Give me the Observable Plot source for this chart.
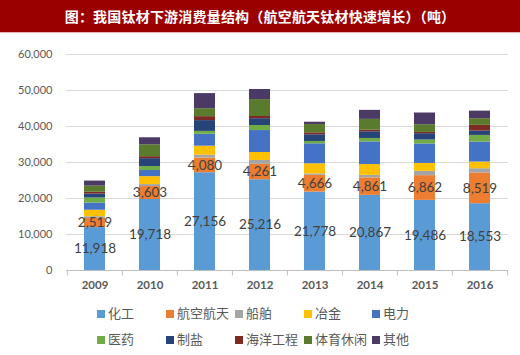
<!DOCTYPE html>
<html><head><meta charset="utf-8">
<script src="https://cdn.jsdelivr.net/npm/d3@7"></script>
<script src="https://cdn.jsdelivr.net/npm/@observablehq/plot@0.6"></script>
<style>
body{margin:0;background:#fff;width:520px;height:355px;overflow:hidden;font-family:Lato,"Noto Sans CJK SC",sans-serif;}
#title{height:32px;line-height:32px;background:#9B0000;color:#fff;text-align:center;font-family:"Noto Sans CJK SC",sans-serif;font-weight:bold;font-size:14px;letter-spacing:0.2px;border-bottom:1px solid #e8b0b0;}
#legend{position:relative;height:60px;}
.li{position:absolute;font-size:13px;color:#595959;font-family:"Noto Sans CJK SC",sans-serif;line-height:16px;white-space:nowrap;}
.sw{display:inline-block;width:8px;height:8px;margin-right:3px;vertical-align:0px;}
</style></head>
<body>
<div id="title">图：我国钛材下游消费量结构（航空航天钛材快速增长）（吨）</div>
<div id="chart"></div>
<div id="legend"></div>
<script>
const years = ["2009","2010","2011","2012","2013","2014","2015","2016"];
const seriesNames = ["化工","航空航天","船舶","冶金","电力","医药","制盐","海洋工程","体育休闲","其他"];
const huagong   = [11918,19718,27156,25216,21778,20867,19486,18553];
const hangkong  = [2519,3603,4080,4261,4666,4861,6862,8519];
const chuanbo   = [500,550,800,1100,400,700,1200,1200];
const yejin     = [1800,2200,2500,2200,2800,3000,2200,1850];
const dianli    = [2000,1700,3300,6100,5550,6300,5400,5550];
const yiyao     = [1400,1100,800,1400,650,950,1100,1850];
const zhiyan    = [1100,2200,3000,1900,1850,1850,1750,1200];
const haiyang   = [500,550,1100,600,550,450,350,1600];
const tiyu      = [1700,3300,2200,4700,2300,3000,2150,1850];
const qita      = [1400,1950,4200,2800,650,2500,3250,2100];
const yTicks = [0,10000,20000,30000,40000,50000,60000];
const colors = ["#5B9BD5","#ED7D31","#A5A5A5","#FFC000","#4472C4","#70AD47","#264478","#7E2A24","#5A7A2E","#4B3A66"];

const seriesValues = [huagong,hangkong,chuanbo,yejin,dianli,yiyao,zhiyan,haiyang,tiyu,qita];
const data = [];
seriesNames.forEach((s,i)=>years.forEach((y,j)=>data.push({year:y,series:s,value:seriesValues[i][j]})));
const labelData = data.filter(d=>d.series==="化工"||d.series==="航空航天");
const fmt = d3.format(",");

const plot = Plot.plot({
  width:520, height:262,
  marginLeft:66, marginRight:12, marginTop:21, marginBottom:25,
  style:{fontFamily:'Lato,"Noto Sans CJK SC",sans-serif', color:"#595959", background:"transparent"},
  x:{domain:years, paddingInner:0.61, paddingOuter:0.305, label:null},
  y:{domain:[0,60000], ticks:yTicks, label:null},
  color:{domain:seriesNames, range:colors},
  marks:[
    Plot.gridY(yTicks.filter(t=>t>0), {stroke:"#D9D9D9", strokeOpacity:1}),
    Plot.barY(data, {x:"year", y:"value", fill:"series", z:"series", order:seriesNames}),
    Plot.ruleY([0], {stroke:"#BFBFBF"}),
    Plot.ruleX(years, {x:d=>d, y1:0, y2:-1500, dx:-27.6, stroke:"#BFBFBF"}),
    Plot.ruleX([years[years.length-1]], {x:d=>d, y1:0, y2:-1500, dx:27.6, stroke:"#BFBFBF"}),
    Plot.text(labelData, Plot.stackY({x:"year", y:"value", z:"series", order:["化工","航空航天"], text:d=>fmt(d.value), fill:"#404040", fontSize:13.5})),
    Plot.axisY(yTicks, {tickSize:0, tickPadding:14, fontSize:11, fill:"#595959", label:null, tickFormat:d=>fmt(d)}),
    Plot.axisX({tickSize:0, tickPadding:10, fontSize:11.5, fill:"#595959", fontWeight:"bold", label:null})
  ]
});
document.getElementById("chart").appendChild(plot);

const legend = document.getElementById("legend");
const colX = [97,166,235,304,372];
seriesNames.forEach((s,i)=>{
  const el = document.createElement("div");
  el.className="li";
  el.style.left = colX[i%5]+"px";
  el.style.top = (i<5? 10 : 36)+"px";
  el.innerHTML = `<span class="sw" style="background:${colors[i]}"></span>${s}`;
  legend.appendChild(el);
});
</script>
</body></html>
